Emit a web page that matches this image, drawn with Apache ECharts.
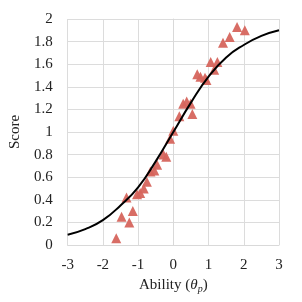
<!DOCTYPE html>
<html><head><meta charset="utf-8">
<script src="https://cdn.jsdelivr.net/npm/echarts@6/dist/echarts.min.js"></script>
<style>html,body{margin:0;padding:0;background:#fff}#c{width:302px;height:302px}</style>
</head><body><div id="c"></div>
<script>
var abilityPoints = [-1.62,-1.47,-1.25,-1.15,-1.33,-1.03,-0.94,-0.84,-0.75,-0.65,-0.54,-0.46,-0.28,-0.20,-0.09,0.00,0.17,0.28,0.38,0.49,0.54,0.68,0.77,0.90,0.94,1.06,1.25,1.16,1.41,1.60,1.81,2.03];
var scorePoints = [0.06,0.25,0.20,0.30,0.42,0.45,0.46,0.50,0.56,0.65,0.66,0.71,0.80,0.78,0.94,1.01,1.14,1.25,1.27,1.25,1.16,1.51,1.49,1.48,1.46,1.62,1.62,1.55,1.79,1.84,1.93,1.90];
var curveAbility = [-3,-2.5,-2,-1.5,-1,-0.5,0,0.5,1,1.5,2,2.5,3];
var curveScore = [0.09,0.14,0.22,0.35,0.51,0.74,1.00,1.26,1.49,1.66,1.77,1.85,1.90];

var chart = echarts.init(document.getElementById('c'));
var font = 'Liberation Serif';
chart.setOption({
  animation:false,
  grid:{left:67,right:23,top:19,bottom:57},
  xAxis:{type:'value',min:-3,max:3,interval:1,
    name:'{n|Ability (}{i|θ}{s|p}{n|)}',nameLocation:'middle',nameGap:24,
    nameTextStyle:{rich:{n:{fontFamily:font,fontSize:15,color:'#222'},i:{fontFamily:font,fontStyle:'italic',fontSize:15,color:'#222'},s:{fontFamily:font,fontStyle:'italic',fontSize:10,color:'#222',padding:[7,0,0,0]}}},
    axisLine:{show:true,lineStyle:{color:'#d9d9d9'}},axisTick:{show:false},
    axisLabel:{fontFamily:font,fontSize:15,color:'#222',margin:13},
    splitLine:{show:true,lineStyle:{color:'#dcdcdc',width:1}}},
  yAxis:{type:'value',min:0,max:2,interval:0.2,
    name:'Score',nameLocation:'middle',nameGap:44,nameRotate:90,
    nameTextStyle:{fontFamily:font,fontSize:15,color:'#222'},
    axisLine:{show:true,lineStyle:{color:'#d9d9d9'}},axisTick:{show:false},
    axisLabel:{fontFamily:font,fontSize:15,color:'#222',margin:15,formatter:function(v){return String(Math.round(v*10)/10);}},
    splitLine:{show:true,lineStyle:{color:'#dcdcdc',width:1}}},
  series:[
    {type:'line',data:curveAbility.map(function(x,i){return [x,curveScore[i]];}),smooth:true,showSymbol:false,
     lineStyle:{color:'#000',width:2},z:3},
    {type:'scatter',data:abilityPoints.map(function(x,i){return [x,scorePoints[i]];}),symbol:'triangle',symbolSize:10,
     itemStyle:{color:'#d6655d',opacity:0.95},z:2}
  ]
});
</script></body></html>
